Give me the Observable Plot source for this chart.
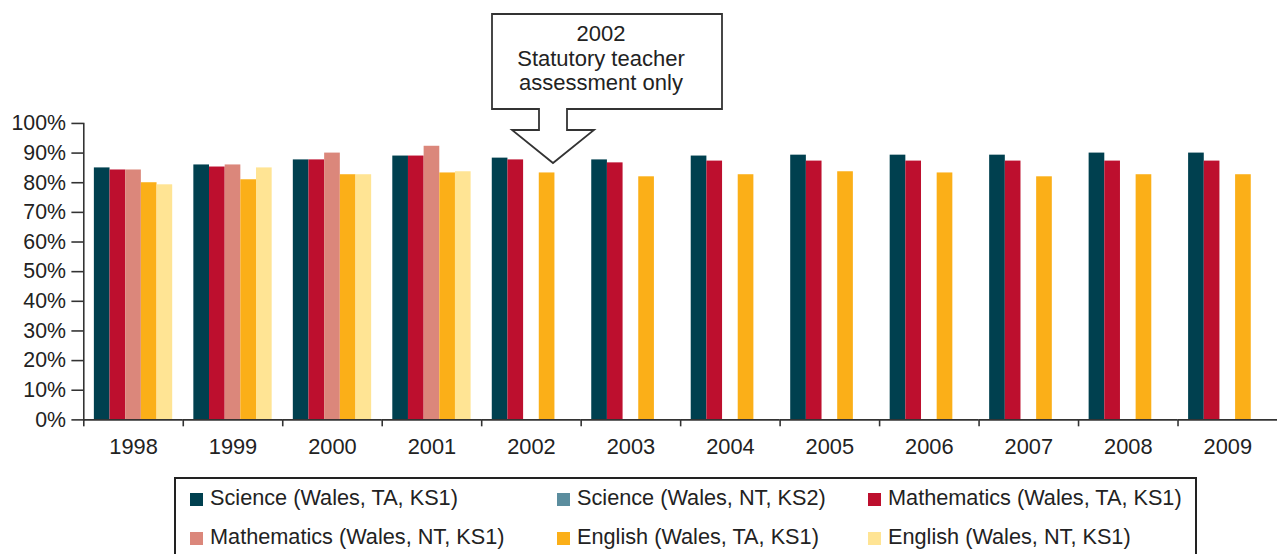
<!DOCTYPE html>
<html>
<head>
<meta charset="utf-8">
<script src="https://cdn.jsdelivr.net/npm/d3@7"></script>
<script src="https://cdn.jsdelivr.net/npm/@observablehq/plot@0.6"></script>
<style>
  html, body { margin: 0; padding: 0; background: #fff; }
  body { width: 1279px; height: 554px; overflow: hidden; position: relative;
         font-family: "Liberation Sans", Arial, sans-serif; color: #222; }
  #chart { position: absolute; left: 0; top: 0; }
  #callout { position: absolute; left: 0; top: 0; pointer-events: none; }
  #legend { position: absolute; left: 174px; top: 477px; width: 1019px; height: 100px;
            border: 2px solid #222; box-sizing: content-box; }
  .item { position: absolute; font-size: 21.7px; line-height: 24px; white-space: nowrap; }
  .sw { position: absolute; width: 13px; height: 13px; }
</style>
</head>
<body>
<div id="chart"></div>
<div id="legend"></div>
<script>
// ---- data ----
const years = ["1998","1999","2000","2001","2002","2003","2004","2005","2006","2007","2008","2009"];
const seriesNames = [
  "Science (Wales, TA, KS1)",
  "Science (Wales, NT, KS2)",
  "Mathematics (Wales, TA, KS1)",
  "Mathematics (Wales, NT, KS1)",
  "English (Wales, TA, KS1)",
  "English (Wales, NT, KS1)"
];
const seriesColors = ["#00404f", "#5b8d9e", "#bd0f2e", "#db877b", "#fbaf18", "#ffe494"];
const scienceTA   = [85, 86, 87.7, 89, 88.3, 87.7, 89, 89.3, 89.3, 89.3, 90, 90];
const scienceNTKS2 = [null, null, null, null, null, null, null, null, null, null, null, null];
const mathsTA     = [84.3, 85.3, 87.7, 89, 87.7, 86.7, 87.3, 87.3, 87.3, 87.3, 87.3, 87.3];
const mathsNT     = [84.3, 86, 90, 92.3, null, null, null, null, null, null, null, null];
const englishTA   = [80, 81, 82.7, 83.3, 83.3, 82, 82.7, 83.7, 83.3, 82, 82.7, 82.7];
const englishNT   = [79.3, 85, 82.7, 83.7, null, null, null, null, null, null, null, null];
const yTicks = [0, 10, 20, 30, 40, 50, 60, 70, 80, 90, 100];
const calloutLines = ["2002", "Statutory teacher", "assessment only"];

// series that occupy a slot in each year group (Science NT KS2 has no bars)
const slotSeries = [seriesNames[0], seriesNames[2], seriesNames[3], seriesNames[4], seriesNames[5]];
const valuesBySeries = [scienceTA, scienceNTKS2, mathsTA, mathsNT, englishTA, englishNT];

const data = [];
years.forEach((yr, i) => {
  seriesNames.forEach((s, j) => {
    const v = valuesBySeries[j][i];
    if (v != null) data.push({year: yr, series: s, value: v});
  });
});

// ---- layout ----
const W = 1290, H = 470, mL = 84, mR = 2, mT = 124, mB = 47;
const band = (W - mL - mR) / years.length;
const font = "'Liberation Sans', Arial, sans-serif";

const chart = Plot.plot({
  width: W, height: H,
  marginLeft: mL, marginRight: mR, marginTop: mT, marginBottom: mB,
  style: {fontFamily: font, fontSize: "22px", color: "#222", background: "transparent", overflow: "visible"},
  fx: {domain: years, padding: 0, round: false, label: null},
  x: {domain: slotSeries, paddingInner: 0, paddingOuter: 0.675, round: false, axis: null},
  y: {domain: [0, 100], label: null, axis: null},
  color: {domain: seriesNames, range: seriesColors},
  marks: [
    Plot.barY(data, {fx: "year", x: "series", y: "value", fill: "series"}),
    Plot.ruleY([0], {stroke: "#333", strokeWidth: 1.6}),
    Plot.frame({anchor: "left", facetAnchor: "left", stroke: "#333", strokeWidth: 1.6}),
    Plot.axisY({ticks: yTicks, tickFormat: d => d + "%", tickSize: 12, tickPadding: 6,
                stroke: "#333", strokeWidth: 1.6, fontSize: 21.5, label: null}),
    Plot.axisFx({anchor: "bottom", tickSize: 0, tickPadding: 19, fontSize: 22, label: null}),
    Plot.axisFx({anchor: "bottom", tickSize: 7, text: null, dx: -band / 2, stroke: "#333", strokeWidth: 1.6, label: null})
  ]
});
document.getElementById("chart").appendChild(chart);

// ---- callout annotation ----
const ann = d3.select("body").append("svg")
  .attr("id", "callout").attr("width", 1279).attr("height", 554);
ann.append("path")
  .attr("d", "M492,14 H722 V109 H567 V130 H594 L553,163 L512,130 H539 V109 H492 Z")
  .attr("fill", "#fff").attr("stroke", "#333").attr("stroke-width", 1.8).attr("stroke-linejoin", "miter");
ann.selectAll("text.c").data(calloutLines).join("text")
  .attr("x", 601).attr("y", (d, i) => 41 + i * 24.5)
  .attr("text-anchor", "middle")
  .attr("font-family", font).attr("font-size", 22).attr("fill", "#222")
  .text(d => d);

// ---- legend ----
const legend = d3.select("#legend");
const cols = [14, 381, 692];
const rows = [14, 53];
seriesNames.forEach((s, i) => {
  const c = i % 3, r = Math.floor(i / 3);
  legend.append("div").attr("class", "sw")
    .style("left", cols[c] + "px").style("top", rows[r] + "px")
    .style("background", seriesColors[i]);
  legend.append("div").attr("class", "item")
    .style("left", (cols[c] + 20) + "px").style("top", (rows[r] - 7) + "px")
    .text(s);
});
</script>
</body>
</html>
